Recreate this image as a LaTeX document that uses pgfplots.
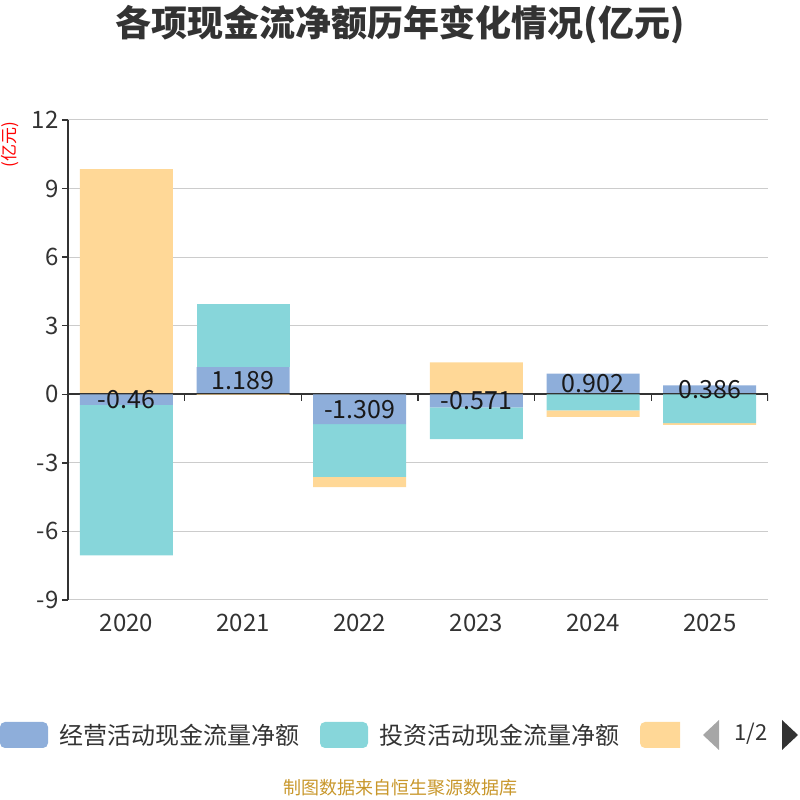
\documentclass[border=0pt]{standalone}
\usepackage{fontspec}
\setmainfont{Noto Sans CJK SC}
\usepackage{pgfplots}
\pgfplotsset{compat=1.18}

\definecolor{opblue}{RGB}{142,174,218}
\definecolor{invteal}{RGB}{135,214,218}
\definecolor{finorange}{RGB}{255,216,151}
\definecolor{axisdark}{HTML}{333333}
\definecolor{gridgray}{HTML}{CCCCCC}
\definecolor{srcgold}{HTML}{C8972B}

\pgfplotsset{
  base/.style={
    at={(68bp,200bp)}, anchor=south west,
    width=700bp, height=480bp, scale only axis,
    xmin=-0.5, xmax=5.5, ymin=-9, ymax=12,
    bar width=93bp,
  },
  hidden/.style={base, hide axis},
}

\begin{document}
\begin{tikzpicture}[x=1bp,y=1bp]
\path[use as bounding box] (0,0) rectangle (800,800);

% positive parts (stacked)
\begin{axis}[base, ybar stacked,
    axis lines*=left,
    x axis line style={draw=none},
    y axis line style={color=axisdark, line width=1.5bp},
    ymajorgrids, grid style={color=gridgray, line width=1bp},
    ytick={-9,-6,...,12},
    xtick={0,...,5},
    xticklabels={2020,2021,2022,2023,2024,2025},
    major x tick style={draw=none},
    tick align=outside, major tick length=6bp,
    ytick style={color=axisdark, line width=1.5bp},
    /pgf/number format/assume math mode=true,
    ticklabel style={font=\fontsize{24bp}{28bp}\selectfont, text=axisdark},
    xticklabel style={yshift=-5bp},
  ]
  \draw[axisdark, line width=1.8bp] (axis cs:-0.5,0) -- (axis cs:5.5,0);
  \pgfplotsinvokeforeach{-0.5,0.5,1.5,2.5,3.5,4.5,5.5}{
    \draw[axisdark, line width=1.5bp] (axis cs:#1,0) -- ++(0pt,-7bp);
  }
  \addplot[fill=opblue, draw=none] coordinates {(0,0) (1,1.189) (2,0) (3,0) (4,0.902) (5,0.386)};
  \addplot[fill=invteal, draw=none] coordinates {(0,0) (1,2.75) (2,0) (3,0) (4,0) (5,0)};
  \addplot[fill=finorange, draw=none] coordinates {(0,9.85) (1,0) (2,0) (3,1.40) (4,0) (5,0)};
\end{axis}

% negative parts (stacked)
\begin{axis}[hidden, ybar stacked]
  \addplot[fill=opblue, draw=none] coordinates {(0,-0.46) (1,0) (2,-1.309) (3,-0.571) (4,0) (5,0)};
  \addplot[fill=invteal, draw=none] coordinates {(0,-6.59) (1,0) (2,-2.31) (3,-1.39) (4,-0.70) (5,-1.26)};
  \addplot[fill=finorange, draw=none] coordinates {(0,0) (1,-0.03) (2,-0.44) (3,0) (4,-0.29) (5,-0.08)};
\end{axis}

% value labels of the operating series
\begin{axis}[hidden]
  \addplot[draw=none, mark=none, nodes near coords, point meta=explicit symbolic,
    nodes near coords style={anchor=center, font=\fontsize{25bp}{29bp}\selectfont, text=black!90}]
    coordinates {(0,-0.23)[-0.46] (1,0.61)[1.189] (2,-0.6545)[-1.309] (3,-0.2855)[-0.571] (4,0.48)[0.902] (5,0.193)[0.386]};
\end{axis}

% title and unit
\node[font=\fontsize{36bp}{42bp}\selectfont\bfseries, text=axisdark] at (400,775) {各项现金流净额历年变化情况(亿元)};
\node[font=\fontsize{17bp}{20bp}\selectfont, text=red, rotate=90, inner sep=0pt] at (10,655) {(亿元)};

% legend
\fill[opblue, rounded corners=5bp] (0,52) rectangle (48,78);
\node[anchor=west, font=\fontsize{24bp}{28bp}\selectfont, text=axisdark] at (56,65) {经营活动现金流量净额};
\fill[invteal, rounded corners=5bp] (320,52) rectangle (368,78);
\node[anchor=west, font=\fontsize{24bp}{28bp}\selectfont, text=axisdark] at (376,65) {投资活动现金流量净额};
\begin{scope}
  \clip (630,40) rectangle (680,90);
  \fill[finorange, rounded corners=5bp] (640,52) rectangle (690,78);
\end{scope}
\fill[gray!70] (703,65) -- (719,80) -- (719,50) -- cycle;
\node[font=\fontsize{22bp}{26bp}\selectfont, text=axisdark] at (751,66) {1/2};
\fill[axisdark] (798,65) -- (782,80) -- (782,50) -- cycle;

% source
\node[font=\fontsize{18bp}{21bp}\selectfont, text=srcgold] at (400,12) {制图数据来自恒生聚源数据库};
\end{tikzpicture}
\end{document}
